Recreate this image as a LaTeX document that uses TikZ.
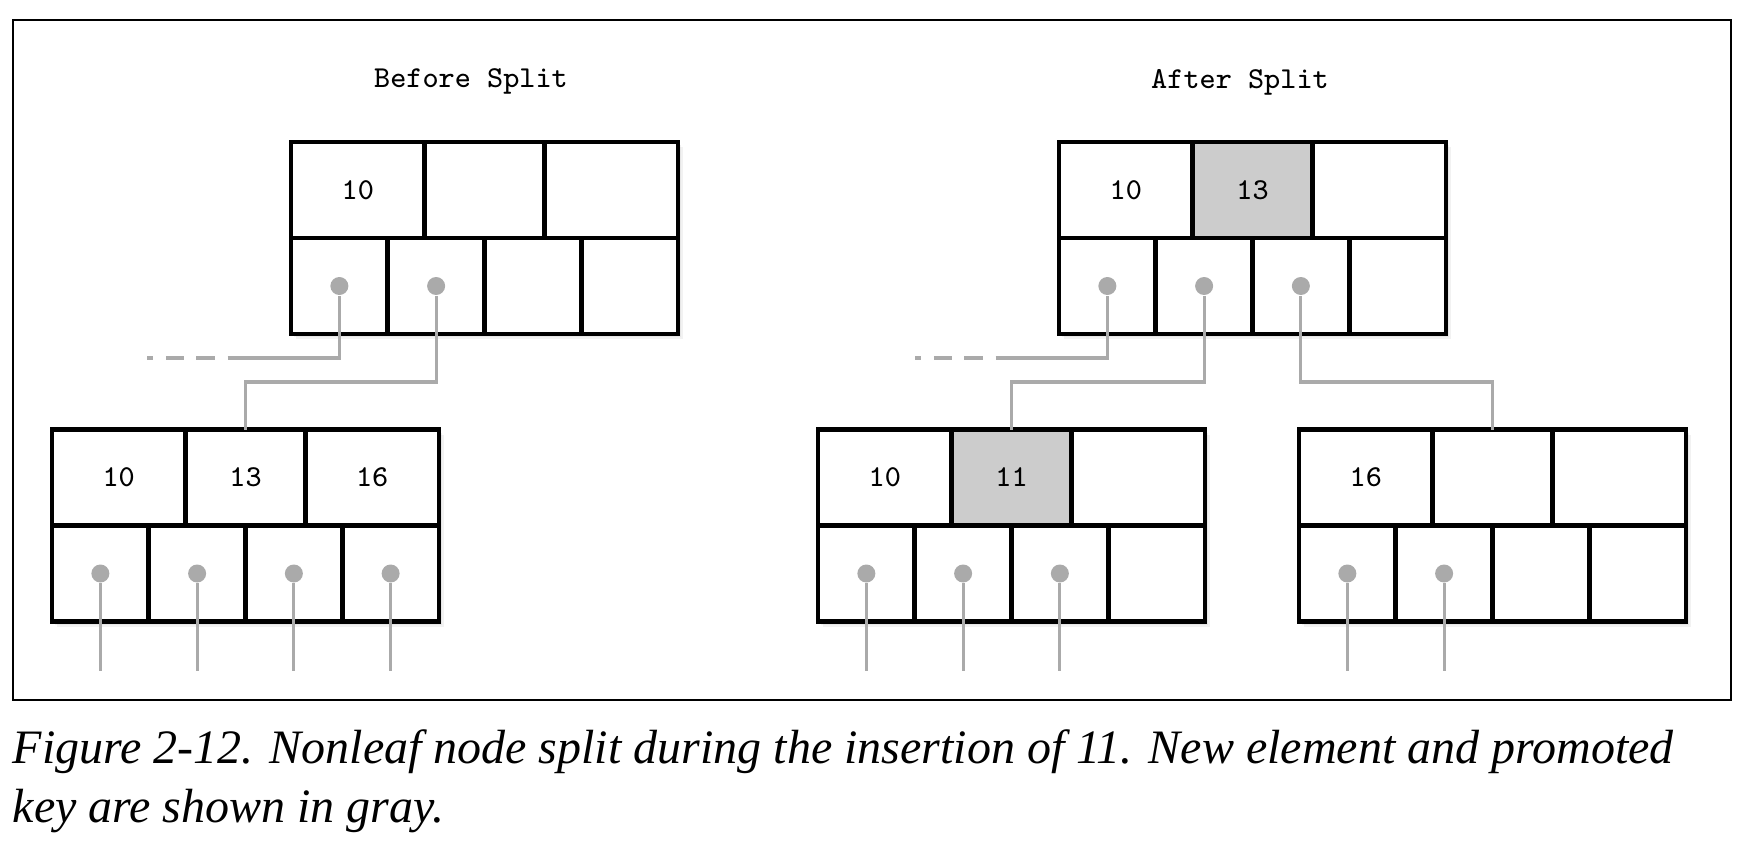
\documentclass[tikz,border=0pt]{standalone}
\usepackage{fontspec}
\newfontfamily\capfont{Liberation Serif}
\usetikzlibrary{positioning}

\definecolor{linkgray}{HTML}{AAAAAA}
\definecolor{keygray}{HTML}{CCCCCC}

% one b-tree node: name, top left corner, three keys, style of middle key
\newcommand{\bnode}[6]{%
  \foreach \s in {1,3,5} {\fill[black,opacity=.05] (#2) ++(\s,\s) rectangle ++(387,192);}
  \node[keybox,wide,anchor=north west] (#1-k1) at (#2) {#3};
  \node[keybox,#6,right=0pt of #1-k1] (#1-k2) {#4};
  \node[keybox,wide,right=0pt of #1-k2] (#1-k3) {#5};
  \node[ptrbox,anchor=north west] (#1-p1) at (#1-k1.south west) {};
  \foreach \i/\j in {2/1,3/2,4/3} {
    \node[ptrbox,right=0pt of #1-p\j] (#1-p\i) {};
  }
}

\begin{document}
\begin{tikzpicture}[x=0.25pt,y=-0.25pt,
  keybox/.style={draw,fill=white,line width=1.2pt,inner sep=0pt,outer sep=0pt,
    minimum height=24pt,font=\fontsize{7.6}{9}\selectfont\ttfamily},
  wide/.style={minimum width=33.375pt},
  narrow/.style={minimum width=30pt},
  promoted/.style={narrow,fill=keygray},
  ptrbox/.style={keybox,minimum width=24.1875pt},
  ptrdot/.style={circle,fill=linkgray,inner sep=0pt,minimum size=4.5pt},
  linkline/.style={linkgray,line width=0.8pt},
  dotdash/.style={dash pattern=on 1.5pt off 3.1pt on 4.6pt off 3pt on 4.75pt off 3.1pt on 100pt},
  title/.style={font=\fontsize{7.6}{9}\selectfont\ttfamily,anchor=base,inner sep=0pt},
  caption/.style={font=\capfont\itshape\fontsize{12}{14}\selectfont,anchor=base west,inner sep=0pt}]
\useasboundingbox (0,0) rectangle (1750,846);
\draw[line width=0.5pt] (12.5,20) rectangle (1731,700);

\node[title] (before) at (471,88) {Before Split};
\node[title] (after) at (1240,89) {After Split};

% before split
\bnode{tl}{291,142}{10}{}{}{narrow}
\bnode{bl}{52,429.5}{10}{13}{16}{narrow}
% after split
\bnode{tr}{1059,142}{10}{13}{}{promoted}
\bnode{bm}{818,429.5}{10}{11}{}{promoted}
\bnode{br}{1299,429.5}{16}{}{}{narrow}

% pointers
\foreach \n/\k in {tl/2,tr/3,bl/4,bm/3,br/2} {
  \foreach \i in {1,...,\k} {
    \node[ptrdot] (\n-d\i) at (\n-p\i) {};
  }
}
\coordinate (tl-e0) at ([shift={(-48pt,-6pt)}]tl-p1.south);
\coordinate (tr-e0) at ([shift={(-48pt,-6pt)}]tr-p1.south);
\draw[linkline,dotdash] (tl-e0) -| (tl-d1);
\draw[linkline,dotdash] (tr-e0) -| (tr-d1);
\draw[linkline] (tl-d2) -- ([yshift=-12pt]tl-p2.south) -| (bl-k2.north);
\draw[linkline] (tr-d2) -- ([yshift=-12pt]tr-p2.south) -| (bm-k2.north);
\draw[linkline] (tr-d3) -- ([yshift=-12pt]tr-p3.south) -| (br-k2.north);
\foreach \n/\k in {bl/4,bm/3,br/2} {
  \foreach \i in {1,...,\k} {
    \coordinate (\n-e\i) at ([yshift=-12.25pt]\n-p\i.south);
    \draw[linkline] (\n-d\i) -- (\n-e\i);
  }
}

\node[caption] (cap1) at (12,763) {Figure 2-12. Nonleaf node split during the insertion of 11. New element and promoted};
\node[caption] (cap2) at (12,822) {key are shown in gray.};
\end{tikzpicture}
\end{document}
